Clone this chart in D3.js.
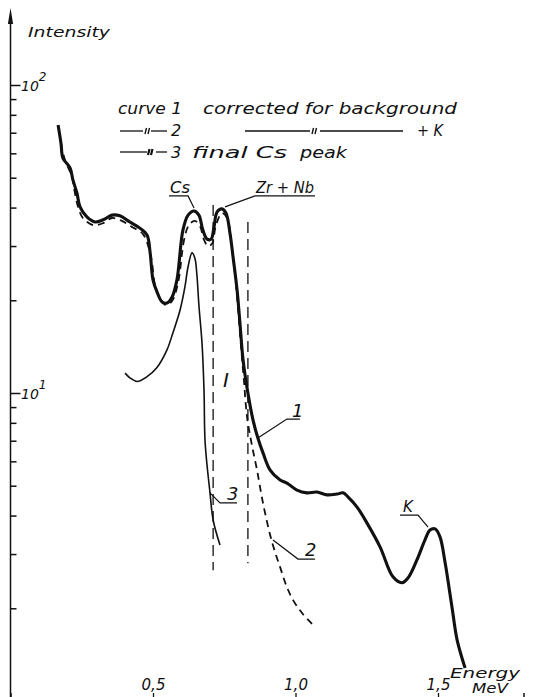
<!DOCTYPE html>
<html><head><meta charset="utf-8">
<script src="https://cdn.jsdelivr.net/npm/d3@7"></script>
<style>
html,body{margin:0;padding:0;background:#fff;}
svg{display:block;}
text{font-family:"DejaVu Sans",sans-serif;font-style:italic;fill:#111;}
</style></head><body>
<svg id="chart" width="535" height="697"></svg>
<script>
// ---- data (energy in MeV, intensity on a log scale) ----
const curve1Energy = [0.167,0.177,0.184,0.209,0.219,0.233,0.244,0.268,0.297,0.325,0.356,0.384,0.419,0.454,0.479,0.490,0.500,0.514,0.532,0.549,0.567,0.584,0.605,0.623,0.644,0.661,0.675,0.690,0.704,0.714,0.725,0.742,0.756,0.770,0.781,0.795,0.805,0.816,0.833,0.851,0.868,0.886,0.911,0.946,0.970,1.005,1.040,1.075,1.111,1.146,1.167,1.184,1.216,1.251,1.297,1.342,1.374,1.395,1.426,1.454,1.472,1.490,1.507,1.525,1.549,1.567,1.595];
const curve1Intensity = [74.1,64.8,57.9,53.8,49.2,44.6,40.2,37.3,35.9,36.5,37.8,37.6,35.9,34.3,32.6,28.5,23.3,21.3,19.75,19.6,20.5,23.3,33.8,37.8,39.0,37.8,33.8,31.6,31.6,34.6,38.7,39.6,38.4,33.1,27.6,21.6,16.9,12.8,10.0,8.17,7.14,6.39,5.62,5.22,5.10,4.84,4.74,4.77,4.67,4.70,4.74,4.60,4.26,3.78,3.16,2.53,2.42,2.51,2.87,3.33,3.59,3.62,3.41,2.81,2.02,1.58,1.28];

const curve2Energy = [0.177,0.191,0.216,0.226,0.237,0.254,0.290,0.325,0.356,0.391,0.426,0.465,0.493,0.507,0.525,0.546,0.567,0.588,0.609,0.626,0.647,0.665,0.679,0.693,0.707,0.721,0.742,0.760,0.777,0.795,0.809,0.819,0.830,0.847,0.865,0.886,0.911,0.928,0.946,0.967,0.991,1.023,1.058];
const curve2Intensity = [64.8,57.1,50.3,44.6,40.2,37.0,35.1,35.6,37.0,36.2,34.6,32.8,27.6,22.4,20.3,19.3,19.9,22.8,31.4,35.1,36.2,34.8,31.4,30.0,30.5,35.1,38.4,37.0,29.8,20.5,14.1,11.0,8.36,6.78,5.62,4.39,3.46,3.05,2.72,2.38,2.13,1.93,1.78];

const curve3Energy = [0.402,0.419,0.444,0.479,0.514,0.549,0.570,0.595,0.612,0.623,0.637,0.647,0.654,0.661,0.672,0.679,0.683,0.700,0.711,0.735];
const curve3Intensity = [11.6,11.2,10.9,11.3,12.1,13.8,15.7,18.6,22.1,25.7,28.5,27.4,24.2,19.3,14.5,10.2,6.88,4.74,3.87,3.21];

// integration window (region I)
const windowEnergy = [0.711, 0.833];
const windowTop = [40.8, 35.9];
const windowBottom = [2.66, 2.8];

const majorTicks = [1, 10, 100];
const minorTicks = [2,3,4,5,6,7,8,9,20,30,40,50,60,70,80,90];
const majorExponents = [1, 2];
const xTicks = [0.5, 1.0, 1.5];

// ---- drawing ----
const svg = d3.select("#chart");
const x = d3.scaleLinear().domain([0, 1.8]).range([10.5, 523.5]);
const y = d3.scaleLog().domain([1, 100]).range([701, 85]);
const line = d3.line().x(d => x(d[0])).y(d => y(d[1])).curve(d3.curveCatmullRom.alpha(0.5));
const zip = (a, b) => a.map((v, i) => [v, b[i]]);
const stretch = (t, len) => t.attr("textLength", len).attr("lengthAdjust", "spacingAndGlyphs");

// y axis line with arrow
const ax = x(0);
svg.append("line").attr("x1", ax).attr("x2", ax).attr("y1", 20).attr("y2", 697)
  .attr("stroke", "#111").attr("stroke-width", 1.5);
svg.append("path").attr("d", `M${ax},8 L${ax-2.6},24 L${ax+2.6},24 Z`).attr("fill", "#111");

const yMajor = svg.append("g").attr("transform", `translate(${ax},0)`)
  .call(d3.axisRight(y).tickValues(majorTicks).tickSize(10).tickFormat(""));
const yMinor = svg.append("g").attr("transform", `translate(${ax},0)`)
  .call(d3.axisRight(y).tickValues(minorTicks).tickSize(6).tickFormat(""));
[yMajor, yMinor].forEach(g => {
  g.select(".domain").remove();
  g.selectAll(".tick line").attr("stroke", "#111").attr("stroke-width", 1.5);
});

majorExponents.forEach(p => {
  const t = svg.append("text").attr("x", 21).attr("y", y(Math.pow(10, p)) + 6)
    .attr("font-size", 14);
  t.append("tspan").text("10");
  t.append("tspan").attr("dy", -10).attr("font-size", 12).text(p);
});

stretch(svg.append("text").attr("x", 28).attr("y", 37).attr("font-size", 14).text("Intensity"), 82);

// x axis (baseline at 10^0, just below the visible frame)
const xAxis = svg.append("g").attr("transform", `translate(0,${y(1)})`)
  .call(d3.axisTop(x).tickValues(xTicks).tickSize(8).tickPadding(3)
    .tickFormat(d => d3.format(".1f")(d).replace(".", ",")));
xAxis.select(".domain").attr("stroke", "#111").attr("stroke-width", 1.5);
xAxis.selectAll(".tick line").attr("stroke", "#111").attr("stroke-width", 1.3);
xAxis.attr("font-family", null).attr("font-size", null);
xAxis.selectAll(".tick text").attr("font-size", 15).attr("fill", "#111");

stretch(svg.append("text").attr("x", 450).attr("y", 678).attr("font-size", 14).text("Energy"), 70);
stretch(svg.append("text").attr("x", 472).attr("y", 693).attr("font-size", 14.5).text("MeV"), 36);

// window lines
windowEnergy.forEach((e, i) => {
  svg.append("line").attr("x1", x(e)).attr("x2", x(e))
    .attr("y1", y(windowTop[i])).attr("y2", y(windowBottom[i]))
    .attr("stroke", "#111").attr("stroke-width", 1.3).attr("stroke-dasharray", "11,6");
});

// curves
svg.append("path").datum(zip(curve3Energy, curve3Intensity)).attr("d", line)
  .attr("fill", "none").attr("stroke", "#111").attr("stroke-width", 1.6);
svg.append("path").datum(zip(curve2Energy, curve2Intensity)).attr("d", line)
  .attr("fill", "none").attr("stroke", "#111").attr("stroke-width", 1.8)
  .attr("stroke-dasharray", "7,5");
svg.append("path").datum(zip(curve1Energy, curve1Intensity)).attr("d", line)
  .attr("fill", "none").attr("stroke", "#111").attr("stroke-width", 3.1)
  .attr("stroke-linejoin", "round");

// annotations: tip in data space, elbow/underline/text offsets in pixels
const annotations = [
  {text: "Cs", e: 0.644, i: 39.9, elbow: [-6, -12], under: -19, tdx: -18, tdy: -3, size: 15, len: 20},
  {text: "Zr + Nb", e: 0.7526, i: 40.2, elbow: [30, -11], under: 60, tdx: 1, tdy: -3, size: 15, len: 58},
  {text: "1", e: 0.868, i: 7.14, elbow: [29, -19], under: 13, tdx: 5, tdy: -2, size: 18},
  {text: "2", e: 0.921, i: 3.33, elbow: [25, 19], under: 17, tdx: 7, tdy: -3, size: 18},
  {text: "3", e: 0.700, i: 4.74, elbow: [10, 10], under: 17, tdx: 7, tdy: -3, size: 18},
  {text: "K", e: 1.465, i: 3.67, elbow: [-10, -12], under: -18, tdx: -15, tdy: -3, size: 15}
];
annotations.forEach(a => {
  const tx = x(a.e), ty = y(a.i);
  const ex = tx + a.elbow[0], ey = ty + a.elbow[1];
  svg.append("path").attr("d", `M${tx},${ty} L${ex},${ey} L${ex + a.under},${ey}`)
    .attr("fill", "none").attr("stroke", "#111").attr("stroke-width", 1.2);
  const t = svg.append("text").attr("x", ex + a.tdx).attr("y", ey + a.tdy)
    .attr("font-size", a.size).text(a.text);
  if (a.len) stretch(t, a.len);
});
svg.append("text").attr("x", x(0.746)).attr("y", y(10.45))
  .attr("font-family", "DejaVu Serif").attr("font-size", 20).text("I");

// legend
const lg = svg.append("g");
const seg = (x1, x2, yy) => lg.append("line").attr("x1", x1).attr("x2", x2).attr("y1", yy).attr("y2", yy)
  .attr("stroke", "#111").attr("stroke-width", 1.3);
const ditto = (xx, yy, w) => lg.append("path")
  .attr("d", `M${xx+1.5},${yy-3} L${xx},${yy+3} M${xx+4.5},${yy-3} L${xx+3},${yy+3}`)
  .attr("stroke", "#111").attr("stroke-width", w || 1.4).attr("fill", "none");
const txt = (xx, yy, s, len) => {
  const t = lg.append("text").attr("x", xx).attr("y", yy).attr("font-size", 16).text(s);
  if (len) stretch(t, len);
  return t;
};
txt(118, 114, "curve 1", 64);
txt(203, 114, "corrected for background", 254);
seg(120, 143, 131); ditto(145, 131); seg(151, 167, 131);
txt(171, 136, "2");
seg(245, 310, 131); ditto(312, 131); seg(320, 403, 131);
txt(417, 136, "+ K", 26);
seg(120, 147, 152); ditto(148, 152, 2.2); seg(156, 167, 152);
txt(171, 158, "3");
txt(192, 158, "final Cs", 95);
txt(300, 158, "peak", 47);
</script>
</body></html>
